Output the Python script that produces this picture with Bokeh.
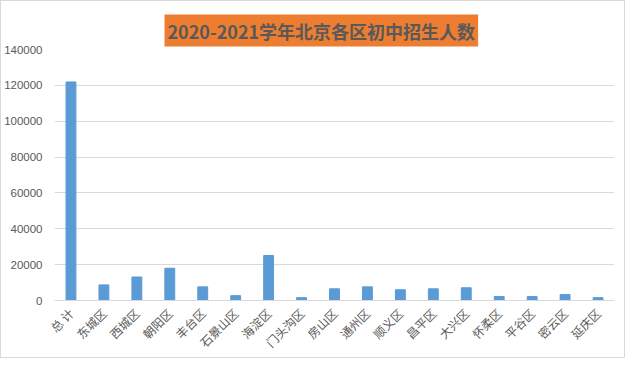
from math import pi
from bokeh.plotting import figure
from bokeh.models import Range1d, FactorRange, SingleIntervalTicker, ColumnDataSource, BasicTickFormatter
from bokeh.embed import file_html
from bokeh.resources import INLINE

title_text = "2020-2021学年北京各区初中招生人数"
districts = ["总 计", "东城区", "西城区", "朝阳区", "丰台区", "石景山区", "海淀区", "门头沟区",
             "房山区", "通州区", "顺义区", "昌平区", "大兴区", "怀柔区", "平谷区", "密云区", "延庆区"]
students = [121900, 8700, 13100, 18000, 7600, 2700, 25100, 1600,
            6500, 7600, 6000, 6500, 7100, 2200, 2200, 3300, 1600]

src = ColumnDataSource(dict(d=districts, v=students))

p = figure(width=625, height=358, output_backend="svg", toolbar_location=None,
           x_range=FactorRange(*districts, range_padding=0), y_range=Range1d(0, 140000),
           min_border_left=52, min_border_right=12, min_border_top=48, min_border_bottom=58,
           title=title_text)
p.styles = {"border": "1px solid #D9D9D9", "box-sizing": "border-box"}

p.vbar(x="d", top="v", width=0.3, source=src, color="#5B9BD5")

p.title.align = "left"
p.title.offset = 110
p.title.vertical_align = "top"
p.title.standoff = 2
p.title.text_font = "Noto Sans CJK SC"
p.title.text_font_style = "bold"
p.title.text_font_size = "18px"
p.title.text_color = "#595959"
p.title.background_fill_color = "#ED7D31"
p.title.padding = 3

p.outline_line_color = None
p.xgrid.grid_line_color = None
p.ygrid.grid_line_color = "#D9D9D9"
p.yaxis.ticker = SingleIntervalTicker(interval=20000)
p.yaxis.formatter = BasicTickFormatter(use_scientific=False)
p.yaxis.axis_line_color = None
p.yaxis.major_tick_line_color = None
p.yaxis.minor_tick_line_color = None
p.yaxis.major_label_text_color = "#595959"
p.yaxis.major_label_text_font = "Liberation Sans"
p.yaxis.major_label_text_font_size = "11.5px"
p.yaxis.major_label_standoff = 6

p.xaxis.axis_line_color = "#D9D9D9"
p.xaxis.major_tick_line_color = None
p.xaxis.minor_tick_line_color = None
p.xaxis.major_label_orientation = pi / 4
p.xaxis.major_label_text_color = "#595959"
p.xaxis.major_label_text_font = "Noto Sans CJK SC"
p.xaxis.major_label_text_font_size = "12px"
p.xaxis.major_label_standoff = 4

open("out.html", "w").write(file_html(p, INLINE))
